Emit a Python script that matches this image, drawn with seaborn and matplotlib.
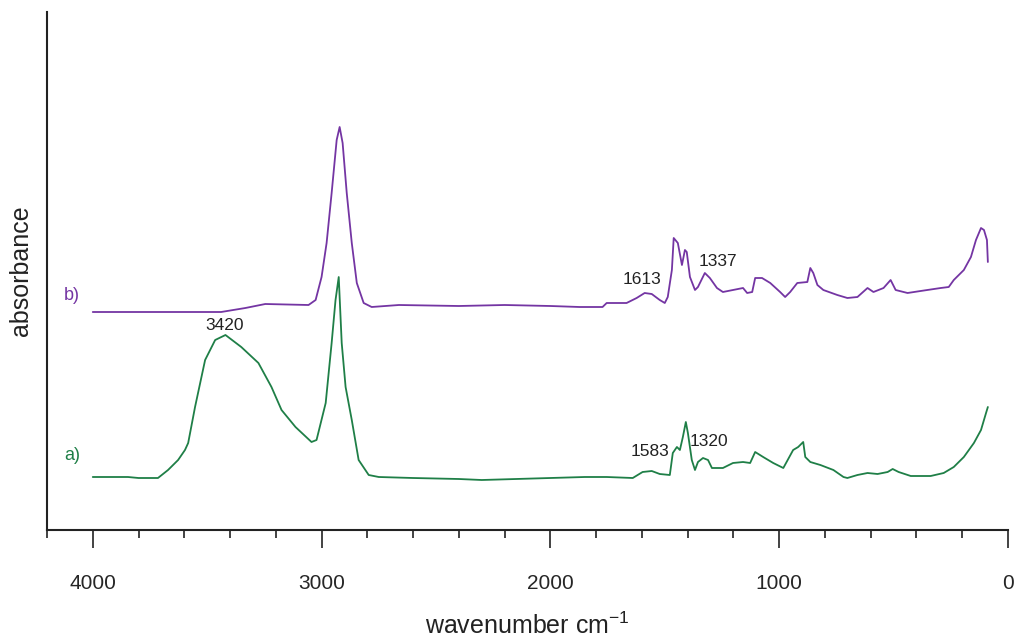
import numpy as np
import pandas as pd
import matplotlib.pyplot as plt
import seaborn as sns

# spectrum a) - green
wn_a = [4000, 3846, 3800, 3715, 3671, 3627, 3597, 3583, 3553, 3509, 3465, 3420,
        3351, 3276, 3219, 3175, 3114, 3044, 3022, 2982, 2956, 2939, 2925, 2912,
        2895, 2868, 2838, 2794, 2750, 2600, 2400, 2300, 2150, 2000, 1850, 1754,
        1640, 1597, 1557, 1522, 1478, 1465, 1447, 1434, 1421, 1408, 1399, 1382,
        1368, 1355, 1333, 1311, 1294, 1246, 1202, 1158, 1127, 1105, 1070, 1026,
        982, 939, 917, 895, 886, 864, 820, 763, 719, 702, 658, 614, 570, 526,
        504, 478, 425, 338, 281, 237, 193, 149, 118, 96, 88]
abs_a = [53, 53, 52, 52, 60, 70, 80, 87, 123, 170, 190, 195,
         183, 167, 143, 120, 103, 88, 90, 127, 187, 230, 253, 187,
         143, 110, 70, 55, 53, 52, 51, 50, 51, 52, 53, 53,
         52, 58, 59, 56, 55, 77, 83, 80, 93, 108, 97, 70,
         60, 68, 72, 70, 62, 62, 67, 68, 67, 78, 73, 67,
         62, 80, 83, 88, 73, 68, 65, 60, 53, 52, 55, 57, 56, 58,
         61, 58, 54, 54, 57, 63, 73, 87, 100, 117, 123]

# spectrum b) - purple
wn_b = [4000, 3439, 3333, 3246, 3057, 3026, 3000, 2978, 2956, 2934, 2921, 2908,
        2890, 2868, 2846, 2816, 2781, 2662, 2400, 2200, 2000, 1872, 1772, 1754,
        1667, 1623, 1588, 1557, 1522, 1500, 1487, 1469, 1461, 1443, 1425, 1412,
        1404, 1390, 1368, 1355, 1325, 1303, 1272, 1246, 1202, 1158, 1140, 1118,
        1105, 1075, 1039, 996, 974, 952, 921, 877, 864, 851, 833, 807, 746, 702,
        658, 614, 588, 544, 513, 491, 439, 382, 294, 259, 237, 193, 162, 140,
        118, 105, 92, 88]
abs_b = [218, 218, 222, 226, 225, 230, 253, 287, 337, 390, 403, 387,
         337, 287, 247, 227, 223, 225, 224, 225, 224, 223, 223, 227,
         227, 232, 237, 236, 230, 227, 233, 260, 292, 287, 265, 280,
         278, 253, 240, 243, 257, 252, 242, 238, 240, 242, 237, 238,
         252, 252, 247, 238, 233, 238, 247, 248, 262, 257, 245, 240, 235, 232,
         233, 242, 238, 242, 250, 240, 237, 239, 242, 243, 250, 260, 273, 290,
         302, 300, 290, 268]

# peak labels
peak_text = ['3420', '1613', '1337', '1583', '1320']
peak_x = [3425, 1601, 1268, 1566, 1307]
peak_y = [204, 251, 268, 78, 89]

green = '#1f7f47'
purple = '#7435a3'

sns.set_theme(style='white')
plt.rcParams['font.family'] = ['Liberation Sans', 'DejaVu Sans']
plt.rcParams['mathtext.fontset'] = 'custom'
plt.rcParams['mathtext.rm'] = 'Liberation Sans'

df_a = pd.DataFrame({'wavenumber': wn_a, 'absorbance': abs_a})
df_b = pd.DataFrame({'wavenumber': wn_b, 'absorbance': abs_b})

fig = plt.figure(figsize=(10.15, 6.43), dpi=100)
ax = fig.add_axes([47 / 1015, 113 / 643, 961 / 1015, 518 / 643])

sns.lineplot(data=df_a, x='wavenumber', y='absorbance', color=green,
             lw=1.3, estimator=None, ax=ax)
sns.lineplot(data=df_b, x='wavenumber', y='absorbance', color=purple,
             lw=1.3, estimator=None, ax=ax)

for t, x, y in zip(peak_text, peak_x, peak_y):
    ax.text(x, y, t, ha='center', va='center', fontsize=12.5, color='#222222')

ax.text(4090, 235, 'b)', color=purple, fontsize=13, ha='center', va='center')
ax.text(4090, 75, 'a)', color=green, fontsize=13, ha='center', va='center')

ax.set_xlim(4200, 0)
ax.set_ylim(0, 518)
ax.set_xticks([4000, 3000, 2000, 1000, 0])
ax.set_xticks(np.arange(200, 4201, 200), minor=True)
ax.set_yticks([])
ax.tick_params(axis='x', which='major', direction='out', length=13, width=1.2,
               pad=19, labelsize=15, bottom=True, color='#222222')
ax.tick_params(axis='x', which='minor', direction='out', length=6, width=1.2,
               bottom=True, color='#222222')

sns.despine(ax=ax)
for s in ['left', 'bottom']:
    ax.spines[s].set_color('#222222')
    ax.spines[s].set_linewidth(1.5)

ax.set_xlabel('wavenumber cm$^{\\mathrm{-1}}$', fontsize=18, labelpad=14,
              color='#222222')
ax.set_ylabel('absorbance', fontsize=18, labelpad=10, color='#222222')

fig.savefig('out.png', dpi=100)
